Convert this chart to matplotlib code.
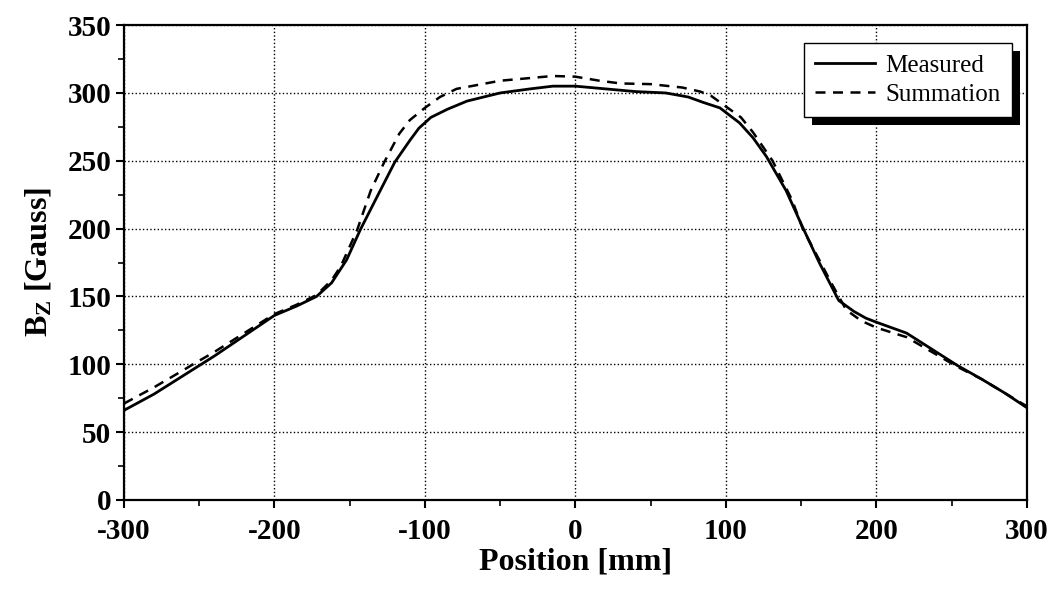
import matplotlib
matplotlib.use("Agg")
import matplotlib.pyplot as plt
from matplotlib.patches import Rectangle

plt.rcParams['font.family'] = 'Liberation Serif'
plt.rcParams['mathtext.fontset'] = 'custom'
plt.rcParams['mathtext.rm'] = 'Liberation Serif'
plt.rcParams['mathtext.bf'] = 'Liberation Serif:bold'
plt.rcParams['axes.unicode_minus'] = False

# Measured field profile
meas_x = [-300, -280, -260, -240, -220, -200, -185, -172, -162, -152, -143, -132, -120, -110,
          -104, -96, -85, -72, -50, -30, -15, 0, 20, 40, 60, 75, 85, 96, 109, 118, 127, 140, 151,
          162, 175, 185, 193, 200, 210, 220, 237, 254, 270, 285, 300]
meas_y = [66, 78, 92, 106, 121, 136, 143, 150, 160, 177, 199, 223, 249, 265,
          274, 282, 288, 294, 300, 303, 305, 305, 303, 301, 300, 297, 293, 289, 278, 267, 253, 228, 201,
          175, 147, 139, 134, 131, 127, 123, 111, 99, 89, 79, 68]

# Summation profile
sum_x = [-300, -280, -260, -254, -240, -220, -200, -185, -172, -162, -156, -145, -136, -127,
         -117, -110, -100, -90, -79, -50, -30, -15, 0, 16, 30, 50, 71, 83, 90, 100, 110, 118, 131,
         144, 151, 162, 170, 180, 190, 200, 220, 237, 254, 270, 285, 300]
sum_y = [71, 83, 96, 100, 109, 123, 137, 144, 151, 162, 172, 199, 228, 249,
         270, 280, 289, 297, 303, 309, 311, 312.5, 312, 309, 307, 306.5, 304, 301, 298, 290, 282, 271, 250,
         221, 200, 177, 160, 140, 132, 127, 120, 109, 98, 89, 79, 69]

fig = plt.figure(figsize=(10.5, 5.98), dpi=100)
ax = fig.add_axes([0.118, 0.164, 0.860, 0.794])

ax.plot(meas_x, meas_y, color='black', lw=2.0, label='Measured')
ax.plot(sum_x, sum_y, color='black', lw=1.8, ls=(0, (4, 3)), label='Summation')

ax.set_xlim(-300, 300)
ax.set_ylim(0, 350)
ax.set_xticks(range(-300, 301, 100))
ax.set_yticks(range(0, 351, 50))
ax.set_xticks(range(-250, 300, 100), minor=True)
ax.set_yticks(range(25, 350, 50), minor=True)
ax.grid(True, which='major', color='black', ls=':', lw=1.0)

for lab in ax.get_xticklabels() + ax.get_yticklabels():
    lab.set_fontweight('bold')
ax.tick_params(which='major', direction='out', length=6, width=1.5, labelsize=21, pad=3)
ax.tick_params(axis='x', which='major', pad=7)
ax.tick_params(which='minor', direction='out', length=4, width=1.2)
for s in ax.spines.values():
    s.set_linewidth(1.6)

ax.set_xlabel('Position [mm]', fontsize=23, fontweight='bold', labelpad=2)
ax.set_ylabel(r'$\mathbf{B_Z}$ [Gauss]', fontsize=23, fontweight='bold', labelpad=10)

leg = ax.legend(loc='upper right', bbox_to_anchor=(0.983, 0.962), borderaxespad=0,
                fontsize=18, fancybox=False, framealpha=1, edgecolor='black',
                handlelength=2.4, labelspacing=0.25, borderpad=0.45, handletextpad=0.4)
leg.get_frame().set_linewidth(1.0)

# offset black shadow behind legend box
fig.canvas.draw()
bb = leg.get_frame().get_window_extent().transformed(ax.transAxes.inverted())
dx = 8 / (ax.get_window_extent().width)
dy = 8 / (ax.get_window_extent().height)
ax.add_patch(Rectangle((bb.x0 + dx, bb.y0 - dy), bb.width, bb.height, transform=ax.transAxes,
                       facecolor='black', edgecolor='none', zorder=4.9, clip_on=False))

fig.savefig('out.png', dpi=100)
